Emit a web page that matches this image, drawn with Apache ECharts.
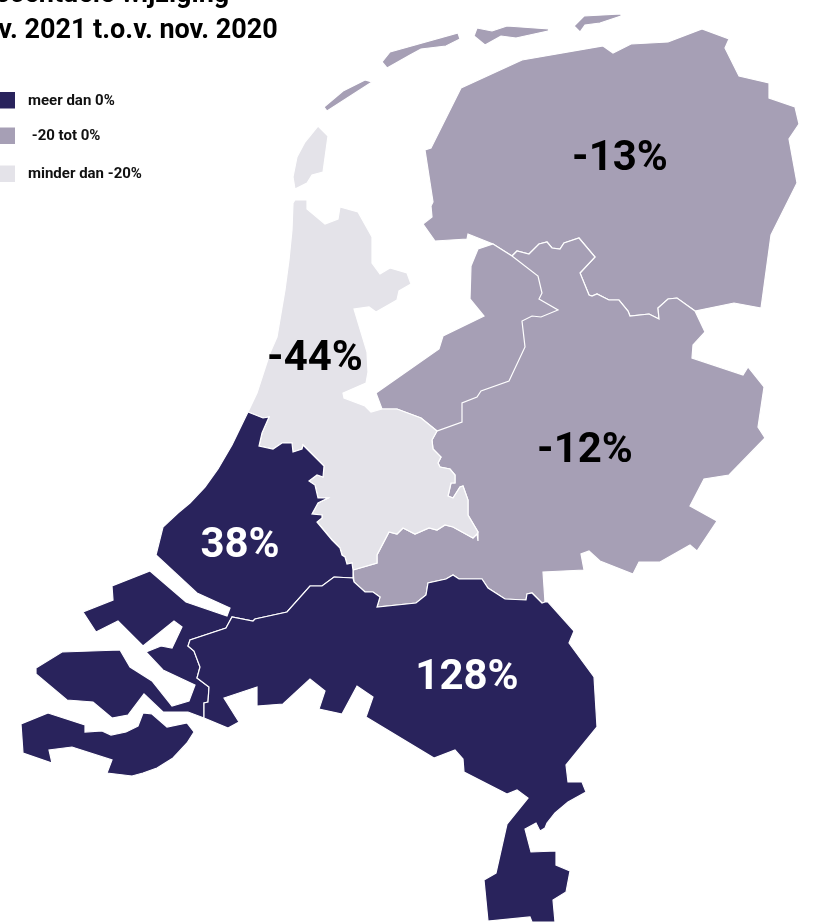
<!DOCTYPE html>
<html>
<head>
<meta charset="utf-8">
<style>
  html, body { margin: 0; padding: 0; background: #fff; }
  #chart { width: 826px; height: 922px; }
</style>
</head>
<body>
<div id="chart"></div>
<script src="https://cdn.jsdelivr.net/npm/echarts@6/dist/echarts.min.js"></script>
<script>
// region values
var regionNames = ['Noord', 'Oost', 'West', 'Midden-West', 'Zuid'];
var regionValues = [-13, -12, -44, 38, 128];
var labelAnchors = [[620, 159], [585, 451], [315, 359], [240, 546], [467, 678]];

var legendLabels = ['meer dan 0%', ' -20 tot 0%', 'minder dan -20%'];
var legendRows = [100, 135.5, 173.5];
var colors = ['#29235c', '#a69fb5', '#e4e3e9'];

var titleLines = 'Procentuele wijziging\nnov. 2021 t.o.v. nov. 2020';

// map outlines, traced in picture coordinates
var noordLand = [[461,88],[522,60],[603,46],[613,53],[631,44],[668,42],[702,29],[729,39],[725,48],[739,76],[769,83],[769,98],[795,107],[799,124],[789,139],[797,183],[771,235],[761,308],[734,303],[695,311],[677,298],[668,299],[658,308],[659,319],[649,314],[630,316],[628,311],[619,300],[609,300],[597,294],[592,296],[589,295],[580,273],[595,257],[579,238],[564,243],[560,249],[552,248],[547,242],[539,244],[529,254],[517,251],[512,256],[493,244],[468,234],[467,239],[435,241],[423,224],[432,217],[431,206],[433,202],[425,150],[431,148]];
var island1 = [[477,28],[492,31],[507,26],[549,29],[548,31],[516,38],[501,36],[485,45],[474,36]];
var island2 = [[584,16],[621,14],[621,16],[600,23],[585,25],[580,32],[574,26]];
var island3 = [[390,52],[458,33],[460,39],[446,46],[421,49],[410,55],[387,68],[382,62]];
var island4 = [[324,107],[343,91],[365,80],[372,82],[327,111]];
var texel = [[318,126],[328,136],[323,172],[312,175],[307,183],[295,189],[293,177],[297,157],[305,142]];

var flevoland = [[493,244],[512,256],[538,276],[542,293],[539,299],[558,310],[541,317],[532,316],[522,321],[525,347],[509,381],[481,391],[477,397],[462,403],[462,422],[437,431],[421,418],[397,409],[382,409],[376,393],[439,349],[443,336],[484,316],[470,299],[471,266],[478,249]];
var oostLand = [[512,256],[517,251],[529,254],[539,244],[547,242],[552,248],[560,249],[564,243],[579,238],[595,257],[580,273],[589,295],[592,296],[597,294],[609,300],[619,300],[628,311],[630,316],[649,314],[659,319],[658,308],[668,299],[677,298],[695,311],[705,332],[693,345],[692,358],[743,375],[748,367],[764,387],[758,427],[765,438],[729,475],[704,479],[690,506],[717,521],[697,551],[690,545],[660,562],[639,562],[633,574],[600,561],[589,551],[581,554],[584,570],[543,572],[545,602],[542,603],[532,593],[527,594],[526,600],[505,599],[488,588],[482,579],[459,579],[453,575],[446,579],[428,583],[426,595],[416,603],[377,607],[380,597],[373,592],[365,592],[354,582],[353,570],[377,563],[377,555],[389,532],[397,534],[403,528],[415,534],[429,528],[437,530],[445,525],[453,527],[473,538],[477,534],[478,541],[478,532],[468,515],[468,500],[463,486],[460,487],[453,498],[448,496],[451,483],[455,483],[455,475],[450,469],[440,467],[438,463],[441,457],[433,449],[432,440],[437,431],[462,422],[462,403],[477,397],[481,391],[509,381],[525,347],[522,321],[532,316],[541,317],[558,310],[539,299],[542,293],[538,276]];

var westLand = [[295,200],[307,200],[307,209],[325,224],[338,219],[340,207],[358,212],[372,237],[372,263],[380,274],[390,268],[407,273],[411,284],[399,291],[397,300],[376,312],[369,307],[354,309],[367,352],[368,372],[366,383],[343,393],[344,398],[365,406],[371,412],[382,409],[397,409],[421,418],[437,431],[432,440],[433,449],[441,457],[438,463],[440,467],[450,469],[455,475],[455,483],[451,483],[448,496],[453,498],[460,487],[463,486],[468,500],[468,515],[478,532],[477,534],[473,538],[453,527],[445,525],[437,530],[429,528],[415,534],[403,528],[397,534],[389,532],[377,555],[377,563],[353,570],[352,563],[347,564],[345,557],[342,555],[340,548],[337,545],[332,540],[317,522],[322,518],[322,515],[312,514],[318,503],[328,498],[318,498],[315,485],[309,481],[317,475],[323,477],[324,466],[303,445],[302,449],[293,452],[292,443],[282,443],[273,449],[259,446],[262,433],[269,417],[263,418],[248,412],[257,393],[270,353],[277,337],[285,290],[289,260],[292,230],[293,203]];

var kustLand = [[248,412],[263,418],[269,417],[262,433],[259,446],[273,449],[282,443],[292,443],[293,452],[302,449],[303,445],[324,466],[323,477],[317,475],[309,481],[315,485],[318,498],[328,498],[318,503],[312,514],[322,515],[322,518],[317,522],[332,540],[337,545],[340,548],[342,555],[345,557],[347,564],[352,563],[353,570],[353,578],[334,577],[322,586],[310,586],[287,612],[255,619],[253,621],[232,617],[226,628],[190,640],[188,646],[194,651],[200,667],[197,678],[209,687],[208,702],[204,703],[204,718],[188,712],[163,712],[144,694],[128,715],[112,718],[93,702],[67,700],[36,674],[36,668],[62,652],[120,650],[130,667],[152,681],[172,706],[189,701],[195,685],[163,670],[146,652],[161,646],[172,648],[182,627],[174,621],[143,646],[118,621],[96,632],[83,612],[113,600],[112,586],[150,571],[186,602],[227,616],[230,608],[197,593],[156,555],[163,527],[178,513],[190,503],[205,487],[218,469],[232,445]];
var zeeuwsVlaanderen = [[48,713],[85,725],[85,732],[102,731],[111,735],[126,732],[138,726],[143,713],[152,714],[167,727],[187,723],[194,732],[187,743],[173,758],[157,768],[143,773],[132,776],[107,773],[112,760],[72,747],[49,750],[52,763],[23,753],[21,724]];

var zuidLand = [[204,718],[228,728],[239,722],[224,698],[257,687],[257,706],[283,704],[310,679],[325,691],[319,709],[342,714],[357,686],[373,697],[366,717],[434,758],[455,750],[463,759],[464,772],[507,794],[517,790],[528,798],[507,824],[496,873],[484,880],[488,921],[530,917],[532,922],[555,922],[553,900],[566,892],[570,871],[556,865],[556,851],[531,852],[525,829],[536,823],[540,831],[545,828],[547,823],[555,813],[568,802],[586,792],[582,782],[568,782],[566,765],[597,727],[594,677],[569,643],[574,631],[548,602],[545,602],[542,603],[532,593],[527,594],[526,600],[505,599],[488,588],[482,579],[459,579],[453,575],[446,579],[428,583],[426,595],[416,603],[377,607],[380,597],[373,592],[365,592],[354,582],[353,578],[334,577],[322,586],[310,586],[287,612],[255,619],[253,621],[232,617],[226,628],[190,640],[188,646],[194,651],[200,667],[197,678],[209,687],[208,702],[204,703]];

var regionShapes = [
  [noordLand, island1, island2, island3, island4],
  [oostLand, flevoland],
  [westLand, texel],
  [kustLand, zeeuwsVlaanderen],
  [zuidLand]
];

function toGeo(p) {
  return [p[0], -p[1]];
}

var geoJson = {
  type: 'FeatureCollection',
  features: regionNames.map(function (name, i) {
    return {
      type: 'Feature',
      properties: { name: name, cp: toGeo(labelAnchors[i]) },
      geometry: {
        type: 'MultiPolygon',
        coordinates: regionShapes[i].map(function (ring) {
          return [ring.concat([ring[0]]).map(toGeo)];
        })
      }
    };
  })
};

echarts.registerMap('nederland', geoJson);

var fontName = 'Roboto, sans-serif';
var chart = echarts.init(document.getElementById('chart'));

var legendGraphics = [];
legendLabels.forEach(function (text, i) {
  legendGraphics.push({
    type: 'rect', silent: true,
    shape: { x: -2, y: legendRows[i] - 8, width: 17, height: 16.5 },
    style: { fill: colors[i] }
  });
  legendGraphics.push({
    type: 'text', silent: true, x: 28, y: legendRows[i] + 1,
    style: {
      text: text, fill: '#111', font: 'bold 15px ' + fontName,
      textVerticalAlign: 'middle'
    }
  });
});

chart.setOption({
  backgroundColor: '#fff',
  animation: false,
  title: {
    text: titleLines,
    left: -37,
    top: -28,
    textStyle: { color: '#000', fontFamily: fontName, fontWeight: 'bold', fontSize: 27, lineHeight: 36 }
  },
  visualMap: {
    show: false,
    type: 'piecewise',
    pieces: [
      { gt: 0, color: colors[0] },
      { gte: -20, lte: 0, color: colors[1] },
      { lt: -20, color: colors[2] }
    ]
  },
  graphic: legendGraphics,
  series: [{
    type: 'map',
    map: 'nederland',
    silent: true,
    roam: false,
    aspectScale: 1,
    boundingCoords: [[0, 0], [826, -922]],
    left: 0,
    top: 0,
    width: 826,
    height: 922,
    itemStyle: { borderColor: '#fff', borderWidth: 1.2 },
    label: {
      show: true,
      fontFamily: fontName,
      fontWeight: 'bold',
      fontSize: 42,
      formatter: function (p) { return p.value + '%'; }
    },
    data: regionNames.map(function (name, i) {
      return {
        name: name,
        value: regionValues[i],
        label: { color: regionValues[i] > 0 ? '#fff' : '#000' }
      };
    })
  }]
});
</script>
</body>
</html>
